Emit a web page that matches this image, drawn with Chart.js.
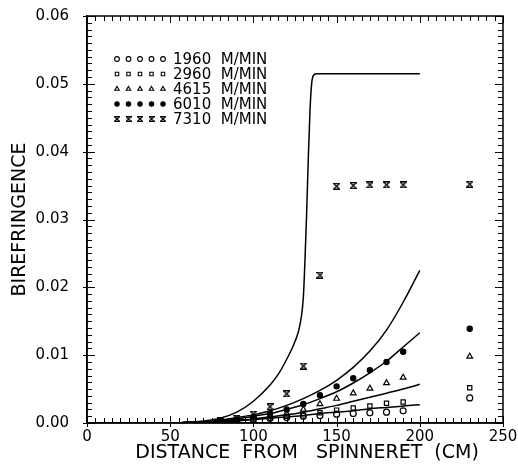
<!DOCTYPE html>
<html>
<head>
<meta charset="utf-8">
<script src="https://cdn.jsdelivr.net/npm/chart.js@4.4.1/dist/chart.umd.min.js"></script>
<style>
  html, body { margin: 0; padding: 0; background: #fff; }
  #wrap { width: 518px; height: 466px; }
</style>
</head>
<body>
<div id="wrap"><canvas id="grafico" width="518" height="466"></canvas></div>
<script>
// pontos medidos (distancia em cm)
const pontosX = [80, 90, 100, 110, 120, 130, 140, 150, 160, 170, 180, 190, 230];
const med1960 = [0.0002, 0.0003, 0.0005, 0.0007, 0.0008, 0.0010, 0.0011, 0.0013, 0.0014, 0.0015, 0.0016, 0.0018, 0.0037];
const med2960 = [0.0002, 0.0003, 0.0005, 0.0007, 0.0010, 0.0012, 0.0015, 0.0019, 0.0022, 0.0025, 0.0029, 0.0031, 0.0052];
const med4615 = [0.0002, 0.0004, 0.0007, 0.0010, 0.0014, 0.0020, 0.0028, 0.0036, 0.0044, 0.0051, 0.0059, 0.0067, 0.0098];
const med6010 = [0.0003, 0.0005, 0.0009, 0.0014, 0.0020, 0.0028, 0.0041, 0.0054, 0.0066, 0.0078, 0.0090, 0.0105, 0.0139];
const med7310 = [0.0003, 0.0007, 0.0013, 0.0024, 0.0043, 0.0084, 0.0218, 0.0349, 0.0350, 0.0351, 0.0351, 0.0351, 0.0352];

// curvas do modelo
const curvaX = [55, 60, 70, 80, 90, 100, 110, 120, 130, 140, 150, 160, 170, 180, 190, 200];
const mod1960 = [0, 0.0001, 0.0001, 0.0002, 0.0003, 0.0005, 0.0007, 0.0009, 0.0011, 0.0014, 0.0016, 0.0018, 0.0021, 0.0023, 0.0025, 0.0027];
const mod2960 = [0, 0.0001, 0.0001, 0.0002, 0.0004, 0.0006, 0.0009, 0.0012, 0.0016, 0.0021, 0.0026, 0.0032, 0.0038, 0.0044, 0.0050, 0.0057];
const mod4615 = [0, 0.0001, 0.0002, 0.0003, 0.0006, 0.0010, 0.0014, 0.0020, 0.0027, 0.0036, 0.0046, 0.0059, 0.0074, 0.0091, 0.0112, 0.0133];
const mod6010 = [0, 0.0001, 0.0002, 0.0004, 0.0008, 0.0012, 0.0018, 0.0026, 0.0036, 0.0048, 0.0063, 0.0082, 0.0106, 0.0137, 0.0178, 0.0225];
const curva7310X = [55, 60, 70, 80, 90, 100, 110, 115, 120, 125, 128, 130, 131, 132, 133, 134, 135, 136, 138, 150, 200];
const mod7310 = [0, 0.0001, 0.0003, 0.0007, 0.0016, 0.0032, 0.0056, 0.0072, 0.0094, 0.0120, 0.0145, 0.0185, 0.0240, 0.0310, 0.0390, 0.0460, 0.0500, 0.0512, 0.0515, 0.0515, 0.0515];

const legendas = ['1960  M/MIN', '2960  M/MIN', '4615  M/MIN', '6010  M/MIN', '7310  M/MIN'];
const xTicks = [0, 50, 100, 150, 200, 250];
const yTicks = [0, 0.01, 0.02, 0.03, 0.04, 0.05, 0.06];

const FONTE = "'DejaVu Sans', sans-serif";

// marcador "ampulheta" da serie 7310
function criaAmpulheta(t) {
    const c = document.createElement('canvas');
    c.width = t; c.height = t;
    const g = c.getContext('2d');
    g.fillStyle = '#000';
    g.fillRect(0, 0, t, 1.2);
    g.fillRect(0, t - 1.2, t, 1.2);
    g.strokeStyle = '#000';
    g.lineWidth = 1.3;
    g.beginPath();
    g.moveTo(0.5, 0.5); g.lineTo(t - 0.5, t - 0.5);
    g.moveTo(t - 0.5, 0.5); g.lineTo(0.5, t - 0.5);
    g.stroke();
    return c;
}
const ampulheta = criaAmpulheta(7);
const ampulhetaPeq = criaAmpulheta(6);

function pares(xs, ys) {
    return xs.map((x, i) => ({ x: x, y: ys[i] }));
}

function serieMedida(ys, estilo, cheio, raio) {
    return {
        data: pares(pontosX, ys),
        showLine: false,
        pointStyle: estilo,
        pointRadius: raio,
        pointBorderWidth: 1.2,
        pointBorderColor: '#000',
        pointBackgroundColor: cheio ? '#000' : 'rgba(0,0,0,0)'
    };
}

function serieModelo(xs, ys) {
    return {
        data: pares(xs, ys),
        showLine: true,
        borderColor: '#000',
        borderWidth: 1.5,
        pointRadius: 0,
        cubicInterpolationMode: 'monotone'
    };
}

const estilosLegenda = [
    { estilo: 'circle', cheio: false, raio: 2.4 },
    { estilo: 'rect', cheio: false, raio: 2.4 },
    { estilo: 'triangle', cheio: false, raio: 2.6 },
    { estilo: 'circle', cheio: true, raio: 2.2 },
    { estilo: ampulhetaPeq, cheio: true, raio: 3 }
];

// moldura com marcas para dentro + legenda no canto
const molduraPlugin = {
    id: 'moldura',
    afterDraw(chart) {
        const ctx = chart.ctx;
        const a = chart.chartArea;
        const sx = chart.scales.x;
        const sy = chart.scales.y;
        ctx.save();
        ctx.strokeStyle = '#000';
        ctx.lineWidth = 1.5;
        ctx.strokeRect(a.left, a.top, a.right - a.left, a.bottom - a.top);

        ctx.lineWidth = 1;
        ctx.beginPath();
        for (let v = 0; v <= 250; v += 5) {
            const px = Math.round(sx.getPixelForValue(v)) + 0.5;
            const maior = v % 50 === 0;
            const len = maior ? 7 : 5;
            ctx.moveTo(px, a.bottom + (maior ? 4 : 0)); ctx.lineTo(px, a.bottom - len);
            ctx.moveTo(px, a.top); ctx.lineTo(px, a.top + len);
        }
        for (let i = 0; i <= 60; i++) {
            const py = Math.round(sy.getPixelForValue(i / 1000)) + 0.5;
            const maior = i % 10 === 0;
            const len = maior ? 8 : 5;
            ctx.moveTo(a.left - (maior ? 4 : 0), py); ctx.lineTo(a.left + len, py);
            ctx.moveTo(a.right, py); ctx.lineTo(a.right - len, py);
        }
        ctx.stroke();

        // legenda
        ctx.font = '15px ' + FONTE;
        ctx.textBaseline = 'middle';
        legendas.forEach((txt, i) => {
            const y = a.top + 43 + i * 15;
            const e = estilosLegenda[i];
            for (let k = 0; k < 5; k++) {
                const x = a.left + 30 + k * 11.5;
                ctx.strokeStyle = '#000';
                ctx.fillStyle = e.cheio ? '#000' : 'rgba(0,0,0,0)';
                ctx.lineWidth = 1.1;
                Chart.helpers.drawPoint(ctx, { pointStyle: e.estilo, radius: e.raio, borderWidth: 1.1, rotation: 0 }, x, y);
            }
            ctx.fillStyle = '#000';
            ctx.fillText(txt, a.left + 86, y + 1);
        });
        ctx.restore();
    }
};

const grafico = document.querySelector('#grafico');
new Chart(grafico, {
    type: 'scatter',
    data: {
        datasets: [
            serieModelo(curva7310X, mod7310),
            serieModelo(curvaX, mod6010),
            serieModelo(curvaX, mod4615),
            serieModelo(curvaX, mod2960),
            serieModelo(curvaX, mod1960),
            serieMedida(med1960, 'circle', false, 3),
            serieMedida(med2960, 'rect', false, 3),
            serieMedida(med4615, 'triangle', false, 3.3),
            serieMedida(med6010, 'circle', true, 2.6),
            serieMedida(med7310, ampulheta, true, 3)
        ]
    },
    options: {
        responsive: false,
        animation: false,
        events: [],
        layout: {
            padding: { top: 16, right: 15, left: 0, bottom: 0 }
        },
        plugins: {
            legend: { display: false },
            tooltip: { enabled: false }
        },
        scales: {
            x: {
                type: 'linear',
                min: 0,
                max: 250,
                afterBuildTicks: s => { s.ticks = xTicks.map(v => ({ value: v })); },
                afterFit: s => { s.height = 43; s.paddingLeft = 0; s.paddingRight = 0; },
                grid: { display: false, drawTicks: false },
                border: { display: true, color: '#000', width: 1.5 },
                ticks: {
                    color: '#000',
                    padding: 5,
                    maxRotation: 0,
                    font: { family: FONTE, size: 15 },
                    callback: v => String(v)
                },
                title: {
                    display: true,
                    text: '    DISTANCE  FROM   SPINNERET  (CM)',
                    color: '#000',
                    padding: { top: 2, bottom: 2 },
                    font: { family: FONTE, size: 19 }
                }
            },
            y: {
                type: 'linear',
                min: 0,
                max: 0.06,
                afterBuildTicks: s => { s.ticks = yTicks.map(v => ({ value: v })); },
                afterFit: s => { s.width = 87; s.paddingTop = 0; s.paddingBottom = 0; },
                grid: { display: false, drawTicks: false },
                border: { display: true, color: '#000', width: 1.5 },
                ticks: {
                    color: '#000',
                    padding: 18,
                    font: { family: FONTE, size: 15 },
                    callback: v => v.toFixed(2)
                },
                title: {
                    display: true,
                    text: 'BIREFRINGENCE',
                    color: '#000',
                    padding: { top: 9, bottom: 0 },
                    font: { family: FONTE, size: 19 }
                }
            }
        }
    },
    plugins: [molduraPlugin]
});
</script>
</body>
</html>
